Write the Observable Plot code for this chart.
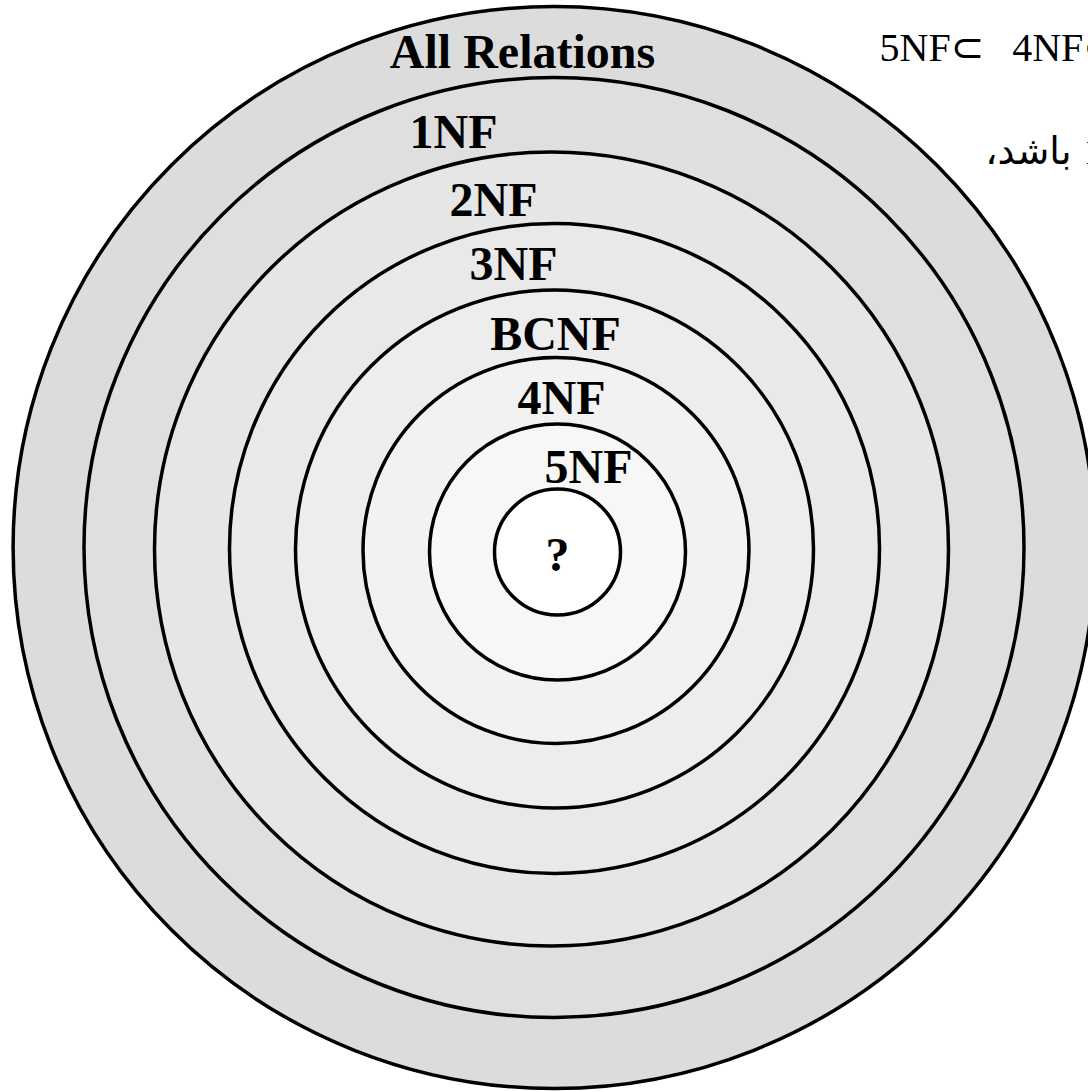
<!DOCTYPE html>
<html><head><meta charset="utf-8">
<script src="https://cdn.jsdelivr.net/npm/d3@7"></script>
<script src="https://cdn.jsdelivr.net/npm/@observablehq/plot@0.6"></script>
<style>html,body{margin:0;padding:0;background:#fff;overflow:hidden}</style>
</head><body><div id="chart"></div>
<script>
// Nested normal-form sets, outermost first
const levels = ["All Relations", "1NF", "2NF", "3NF", "BCNF", "4NF", "5NF", "?"];
const radii = [541, 470, 397, 325, 259, 193, 128, 63];
const centerX = [553.6, 553.5, 551, 554, 554, 555.5, 557, 557];
const centerY = [547, 547, 548.5, 548, 548.5, 550, 551.5, 551.5];
const shades = ["#dcdcdc", "#dfdfdf", "#e6e6e6", "#e9e9e9", "#ededed", "#f2f2f2", "#f7f7f7", "#ffffff"];
const labelX = [522, 453, 493, 513, 555, 561, 588, 557];
const labelY = [67, 147, 215, 279, 349, 413, 482, 570];

// Surrounding (clipped) page text
const noteText = ["5NF⊂\u2002\u20094NF⊂\u2002\u2009BCNF⊂\u2002\u20093NF", "\u200Fباشد،\u200F", "1NF"];
const noteX = [879, 1071, 1083];
const noteY = [60, 163, 163];
const noteAnchor = ["start", "end", "start"];

const rings = levels.map((level, i) => ({
  level, r: radii[i], cx: centerX[i], cy: centerY[i], lx: labelX[i], ly: labelY[i]
}));
const notes = noteText.map((t, i) => ({t, x: noteX[i], y: noteY[i], a: noteAnchor[i]}));

const W = 1088, H = 1091;
const chart = Plot.plot({
  width: W, height: H, margin: 0,
  x: {domain: [0, W], range: [0, W], axis: null},
  y: {domain: [0, H], range: [0, H], axis: null},
  r: {type: "identity"},
  color: {domain: levels, range: shades},
  style: {background: "white", overflow: "hidden"},
  marks: [
    Plot.dot(rings, {x: "cx", y: "cy", r: "r", fill: "level", stroke: "black", strokeWidth: 3.5}),
    Plot.text(rings, {x: "lx", y: "ly", text: "level", fontSize: 48, fontWeight: "bold",
      fontFamily: "'Liberation Serif', 'Times New Roman', serif", lineAnchor: "bottom", fill: "black"}),
    Plot.text(notes.filter(d => d.a === "start"), {x: "x", y: "y", text: "t", fontSize: 40, textAnchor: "start",
      fontFamily: "'Liberation Serif', 'DejaVu Sans', serif", lineAnchor: "bottom", fill: "black"}),
    Plot.text(notes.filter(d => d.a === "end"), {x: "x", y: "y", text: "t", fontSize: 38, textAnchor: "end",
      fontFamily: "'Liberation Serif', 'DejaVu Sans', serif", lineAnchor: "bottom", fill: "black"})
  ]
});
document.getElementById("chart").appendChild(chart);
</script>
</body></html>
